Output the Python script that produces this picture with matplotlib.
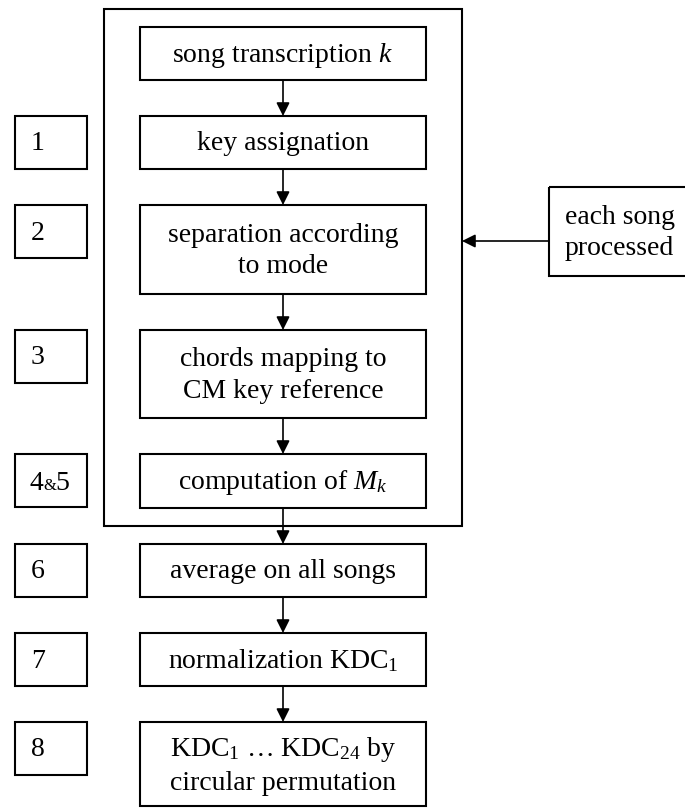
import matplotlib
matplotlib.use('Agg')
import matplotlib.pyplot as plt
import matplotlib.patches as patches

# ── Font setup (Times-like serif) ──
plt.rcParams['font.family'] = ['Liberation Serif', 'DejaVu Serif']
plt.rcParams['mathtext.fontset'] = 'custom'
plt.rcParams['mathtext.rm'] = 'Liberation Serif'
plt.rcParams['mathtext.it'] = 'Liberation Serif:italic'

# ── Content ──
step_texts = [
    'song transcription $k$',
    'key assignation',
    'separation according\nto mode',
    'chords mapping to\nCM key reference',
    'computation of $M_k$',
    'average on all songs',
    'normalization KDC$_1$',
    'KDC$_1$ \u2026 KDC$_{24}$ by\ncircular permutation',
]
step_numbers = ['', '1', '2', '3', '4&5', '6', '7', '8']
loop_text = 'each song\nprocessed'

# ── Layout (pixel coords, y downwards) ──
W, H = 685, 808
BOX_X0, BOX_X1 = 140, 426
STEP_TOPS = [27, 116, 205, 330, 454, 544, 633, 722]
STEP_BOTS = [80, 169, 294, 418, 508, 597, 686, 806]
LAB_X0, LAB_X1 = 15, 87
LAB_H = 53
LOOP = (104, 9, 462, 526)          # x0, y0, x1, y1 of the loop frame
SIDE = (549, 187, 700, 276)        # right-hand box (runs past the edge)
ARROW_Y = 241
LW = 1.5
FS = 20
LSP = 1.32
TXT_DY = 1.5                       # nudge text down a little

fig = plt.figure(figsize=(W / 100, H / 100), dpi=100)
ax = fig.add_axes([0, 0, 1, 1])
ax.set_xlim(0, W)
ax.set_ylim(H, 0)
ax.axis('off')


def rect(x0, y0, x1, y1):
    ax.add_patch(patches.Rectangle((x0, y0), x1 - x0, y1 - y0, fill=False,
                                   edgecolor='black', linewidth=LW,
                                   clip_on=False))


def arrow(x0, y0, x1, y1):
    ax.annotate('', xy=(x1, y1), xytext=(x0, y0),
                arrowprops=dict(arrowstyle='-|>,head_length=0.8,head_width=0.4',
                                color='black', lw=1.2, mutation_scale=10,
                                shrinkA=0, shrinkB=0))


# loop frame
rect(*LOOP)

# main steps
cx = (BOX_X0 + BOX_X1) / 2
for i, txt in enumerate(step_texts):
    y0, y1 = STEP_TOPS[i], STEP_BOTS[i]
    rect(BOX_X0, y0, BOX_X1, y1)
    ax.text(cx, (y0 + y1) / 2 + TXT_DY, txt, ha='center', va='center',
            fontsize=FS, linespacing=LSP)
    if i > 0:
        arrow(cx, STEP_BOTS[i - 1], cx, y0)

# step number boxes
for i, num in enumerate(step_numbers):
    if not num:
        continue
    y0 = STEP_TOPS[i]
    y1 = y0 + LAB_H
    ym = (y0 + y1) / 2 + TXT_DY
    rect(LAB_X0, y0, LAB_X1, y1)
    if num == '4&5':
        base = ym + 8
        ax.text(30, base, '4', ha='left', va='baseline', fontsize=FS)
        ax.text(43, base, '&', ha='left', va='baseline', fontsize=12)
        ax.text(55, base, '5', ha='left', va='baseline', fontsize=FS)
    else:
        ax.text(31, ym, num, ha='left', va='center', fontsize=FS)

# side box and arrow into the loop
rect(*SIDE)
ax.text(565, (SIDE[1] + SIDE[3]) / 2 + TXT_DY, loop_text, ha='left',
        va='center', fontsize=FS, linespacing=LSP)
arrow(SIDE[0], ARROW_Y, LOOP[2], ARROW_Y)

fig.savefig('out.png', dpi=100, facecolor='white')
